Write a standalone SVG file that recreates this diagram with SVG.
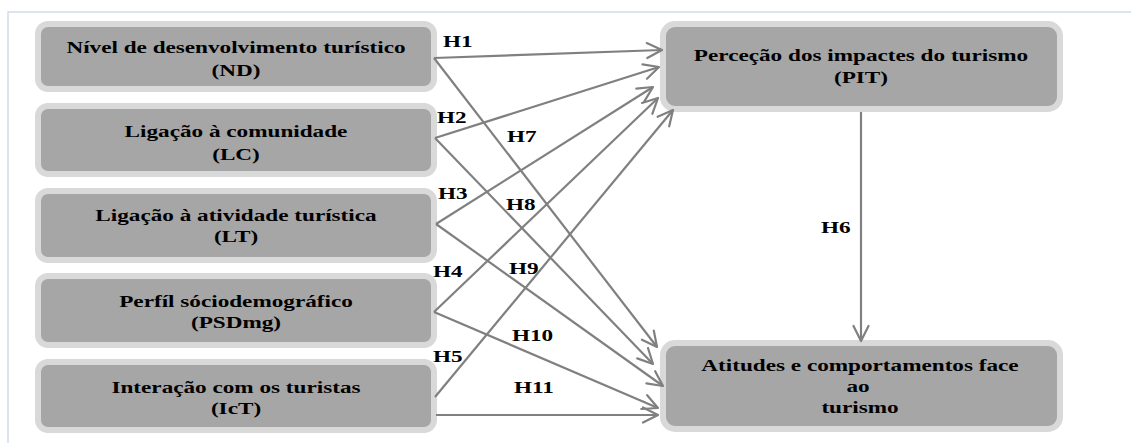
<svg xmlns="http://www.w3.org/2000/svg" width="1131" height="443" viewBox="0 0 1131 443">
<style>
.box{fill:#a6a6a6;stroke:#d9d9d9;stroke-width:6}
text{font-family:'Liberation Serif','DejaVu Serif',serif;font-weight:bold;font-size:16px;fill:#000}
.t{text-anchor:middle}
.c{stroke:#808080;stroke-width:2.2;fill:none;marker-end:url(#ah)}
.frame{stroke:#d3dbe8;stroke-width:1.5;fill:none}
</style>
<defs>
<marker id="ah" markerUnits="userSpaceOnUse" markerWidth="24" markerHeight="24" viewBox="-20 -10 24 20" refX="0" refY="0" orient="auto">
<path d="M-15,-7.5 L0,0 L-15,7.5" fill="none" stroke="#808080" stroke-width="2.2" stroke-linejoin="round" stroke-linecap="round"/>
</marker>
</defs>
<rect width="1131" height="443" fill="#ffffff"/>
<path class="frame" d="M8,443 L8,12 L1131,12"/>

<g id="node-ND" font-family="Liberation Serif, serif">
<rect class="box" x="38" y="24" width="396" height="65" rx="10"/>
<text class="t" transform="translate(236,53) scale(1.45,1)">Nível de desenvolvimento turístico</text>
<text class="t" transform="translate(236,76) scale(1.45,1)">(ND)</text>
</g>
<g id="node-LC">
<rect class="box" x="38" y="106" width="396" height="68" rx="10"/>
<text class="t" transform="translate(236,137) scale(1.45,1)">Ligação à comunidade</text>
<text class="t" transform="translate(236,160) scale(1.45,1)">(LC)</text>
</g>
<g id="node-LT">
<rect class="box" x="38" y="191" width="396" height="69" rx="10"/>
<text class="t" transform="translate(236,221) scale(1.45,1)">Ligação à atividade turística</text>
<text class="t" transform="translate(236,242) scale(1.45,1)">(LT)</text>
</g>
<g id="node-PSDmg">
<rect class="box" x="38" y="276" width="396" height="69" rx="10"/>
<text class="t" transform="translate(236,307) scale(1.45,1)">Perfíl sóciodemográfico</text>
<text class="t" transform="translate(236,328) scale(1.45,1)">(PSDmg)</text>
</g>
<g id="node-IcT">
<rect class="box" x="38" y="362" width="396" height="68" rx="10"/>
<text class="t" transform="translate(236,393) scale(1.45,1)">Interação com os turistas</text>
<text class="t" transform="translate(236,414) scale(1.45,1)">(IcT)</text>
</g>
<g id="node-PIT">
<rect class="box" x="663" y="24" width="397" height="85" rx="12"/>
<text class="t" transform="translate(861,61) scale(1.45,1)">Perceção dos impactes do turismo</text>
<text class="t" transform="translate(861,83) scale(1.45,1)">(PIT)</text>
</g>
<g id="node-ACT">
<rect class="box" x="663" y="343" width="397" height="86" rx="12"/>
<text class="t" transform="translate(860,371) scale(1.45,1)">Atitudes e comportamentos face</text>
<text class="t" transform="translate(858,392) scale(1.45,1)">ao</text>
<text class="t" transform="translate(860,413) scale(1.45,1)">turismo</text>
</g>

<g id="connectors">
<path class="c" d="M434,58 L662,50"/>
<path class="c" d="M434,58 L657,347"/>
<path class="c" d="M435,138 L659,67"/>
<path class="c" d="M435,138 L653,364"/>
<path class="c" d="M436,224 L653,87"/>
<path class="c" d="M436,224 L663,386"/>
<path class="c" d="M434,312 L658,98"/>
<path class="c" d="M434,312 L658,408"/>
<path class="c" d="M435,397 L673,110"/>
<path class="c" d="M436,415 L658,415"/>
<path class="c" d="M861,112 L861,341"/>
<g id="labels">
<text transform="translate(443,47) scale(1.45,1)">H1</text>
<text transform="translate(437,123) scale(1.45,1)">H2</text>
<text transform="translate(438,199) scale(1.45,1)">H3</text>
<text transform="translate(433,277) scale(1.45,1)">H4</text>
<text transform="translate(433,362) scale(1.45,1)">H5</text>
<text transform="translate(821,233) scale(1.45,1)">H6</text>
<text transform="translate(507,142) scale(1.45,1)">H7</text>
<text transform="translate(506,210) scale(1.45,1)">H8</text>
<text transform="translate(509,274) scale(1.45,1)">H9</text>
<text transform="translate(512,341) scale(1.45,1)">H10</text>
<text transform="translate(514,393) scale(1.45,1)">H11</text>
</g>
</g>
</svg>
